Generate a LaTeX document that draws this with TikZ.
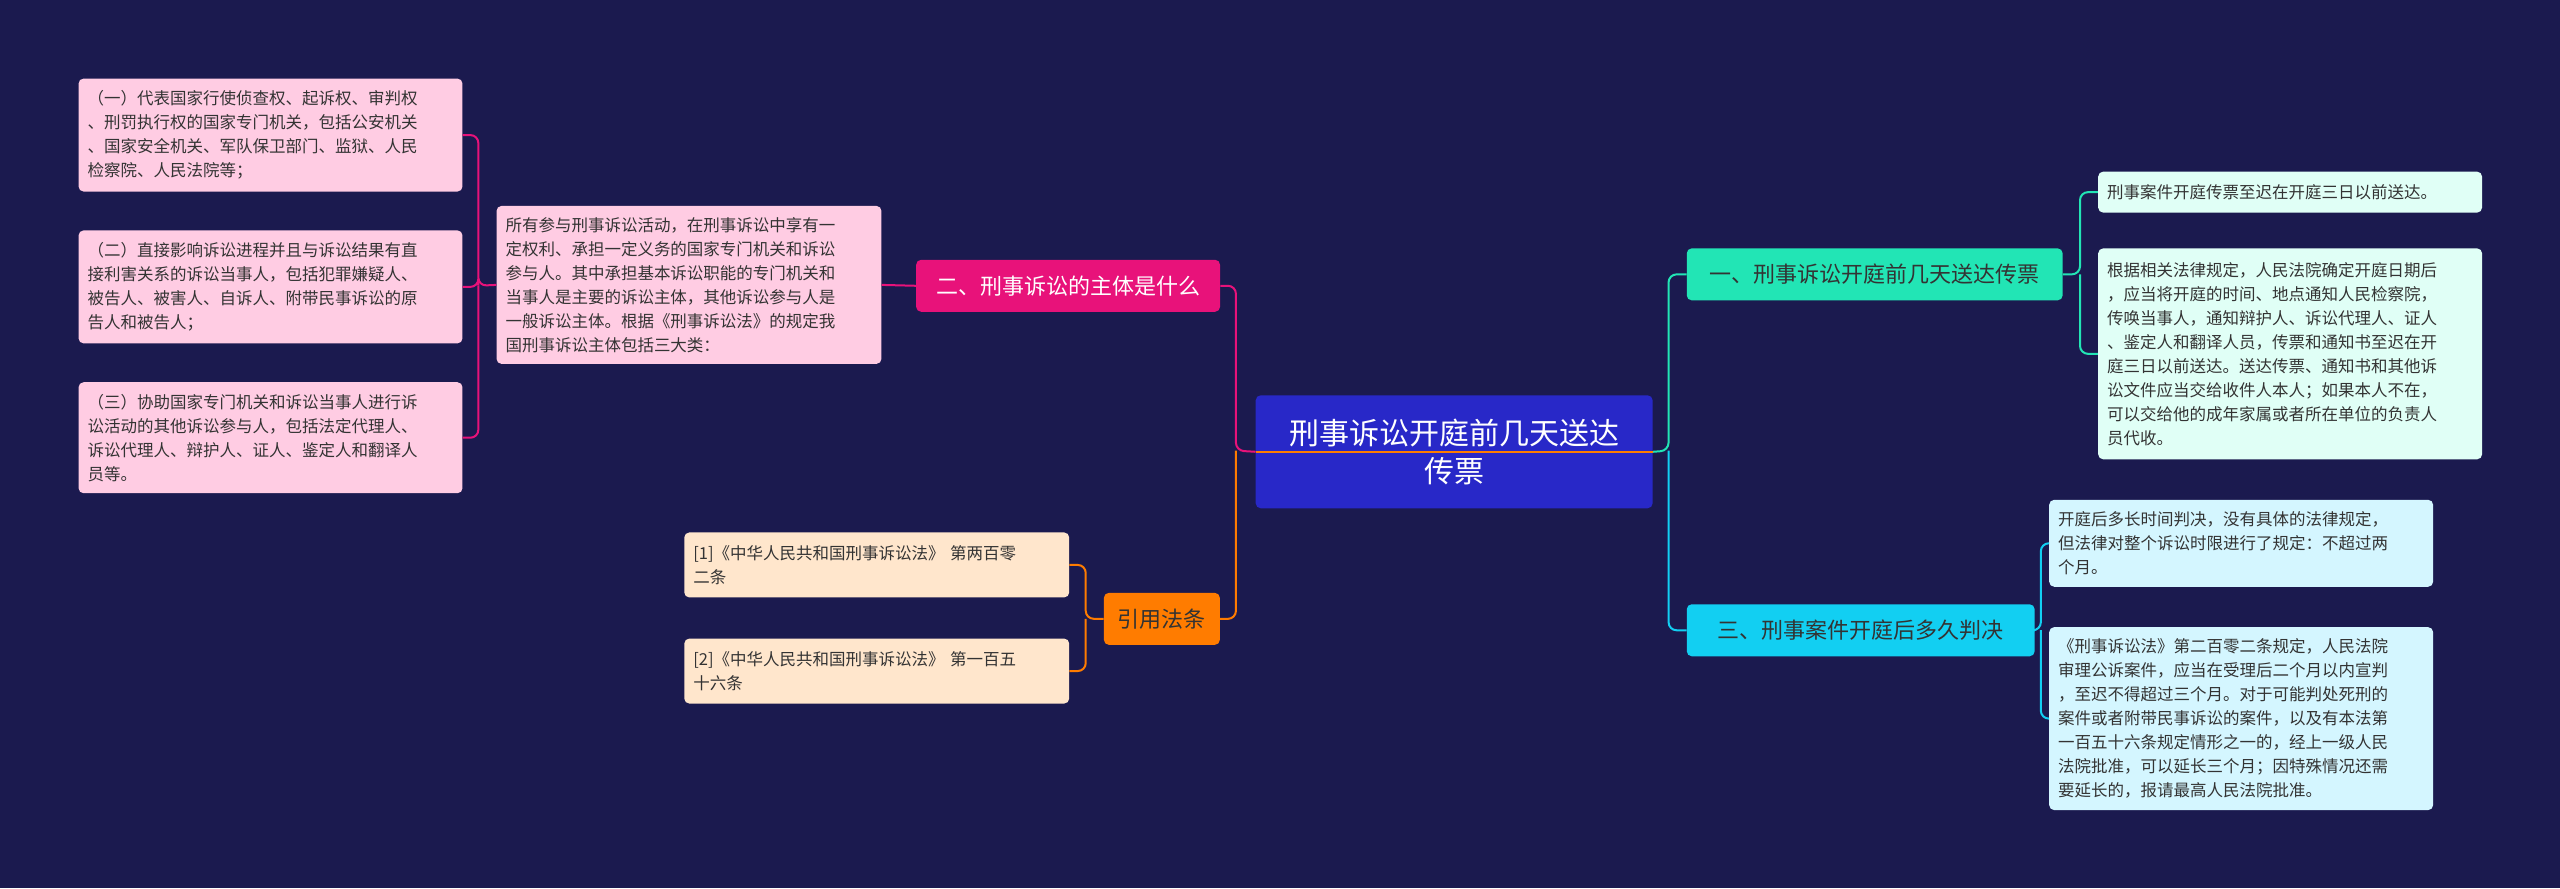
\documentclass[tikz,border=0pt]{standalone}
\usepackage{fontspec}
\setmainfont{Noto Sans CJK SC}
\definecolor{bgcol}{HTML}{1B1A4F}
\definecolor{rootcol}{HTML}{2828C8}
\definecolor{onecol}{HTML}{22E5B5}
\definecolor{onelight}{HTML}{E0FFF6}
\definecolor{threecol}{HTML}{12CFF2}
\definecolor{threelight}{HTML}{D4F6FF}
\definecolor{twocol}{HTML}{E8127A}
\definecolor{twolight}{HTML}{FFCCE3}
\definecolor{citecol}{HTML}{FF7C00}
\definecolor{citelight}{HTML}{FFE6CC}
\definecolor{inkcol}{HTML}{333333}
\begin{document}
\begin{tikzpicture}[x=1.633pt,y=-1.633pt]
\tikzstyle{box}=[anchor=north west, rounded corners=5pt, inner sep=9pt, align=left]
\tikzstyle{leaf}=[box, text=inkcol, font=\fontsize{16.5}{24}\selectfont]
\tikzstyle{topic}=[box, font=\fontsize{22}{28}\selectfont, align=center]
\tikzstyle{link}=[line width=2pt, rounded corners=8pt]
\fill[bgcol] (0,0) rectangle (1568,544);
% root
\draw node[box, fill=rootcol, text=white, align=center, text width=379pt, minimum height=113pt,
  font=\fontsize{30}{38}\selectfont] (root) at (769,242) {刑事诉讼开庭前几天送达\\传票};
% right side
\draw node[topic, fill=onecol, text=inkcol, minimum width=376pt, minimum height=52pt] (one) at (1033,152) {一、刑事诉讼开庭前几天送达传票};
\draw node[leaf, fill=onelight, text width=366pt, minimum height=41pt] (onea) at (1285,105) {刑事案件开庭传票至迟在开庭三日以前送达。};
\draw node[leaf, fill=onelight, text width=366pt, minimum height=211pt] (oneb) at (1285,152)
  {根据相关法律规定，人民法院确定开庭日期后\\，应当将开庭的时间、地点通知人民检察院，\\传唤当事人，通知辩护人、诉讼代理人、证人\\、鉴定人和翻译人员，传票和通知书至迟在开\\庭三日以前送达。送达传票、通知书和其他诉\\讼文件应当交给收件人本人；如果本人不在，\\可以交给他的成年家属或者所在单位的负责人\\员代收。};
\draw node[topic, fill=threecol, text=inkcol, minimum width=348pt, minimum height=52pt] (three) at (1033,370) {三、刑事案件开庭后多久判决};
\draw node[leaf, fill=threelight, text width=366pt, minimum height=87pt] (threea) at (1255,306)
  {开庭后多长时间判决，没有具体的法律规定，\\但法律对整个诉讼时限进行了规定：不超过两\\个月。};
\draw node[leaf, fill=threelight, text width=366pt, minimum height=183pt] (threeb) at (1255,384)
  {《刑事诉讼法》第二百零二条规定，人民法院\\审理公诉案件，应当在受理后二个月以内宣判\\，至迟不得超过三个月。对于可能判处死刑的\\案件或者附带民事诉讼的案件，以及有本法第\\一百五十六条规定情形之一的，经上一级人民\\法院批准，可以延长三个月；因特殊情况还需\\要延长的，报请最高人民法院批准。};
% left side
\draw node[topic, fill=twocol, text=white, minimum width=304pt, minimum height=52pt] (two) at (561,159) {二、刑事诉讼的主体是什么};
\draw node[leaf, fill=twolight, text width=367pt, minimum height=158pt] (twomid) at (304,126)
  {所有参与刑事诉讼活动，在刑事诉讼中享有一\\定权利、承担一定义务的国家专门机关和诉讼\\参与人。其中承担基本诉讼职能的专门机关和\\当事人是主要的诉讼主体，其他诉讼参与人是\\一般诉讼主体。根据《刑事诉讼法》的规定我\\国刑事诉讼主体包括三大类：};
\draw node[leaf, fill=twolight, text width=366pt, minimum height=113pt] (twoa) at (48,48)
  {（一）代表国家行使侦查权、起诉权、审判权\\、刑罚执行权的国家专门机关，包括公安机关\\、国家安全机关、军队保卫部门、监狱、人民\\检察院、人民法院等；};
\draw node[leaf, fill=twolight, text width=366pt, minimum height=113pt] (twob) at (48,141)
  {（二）直接影响诉讼进程并且与诉讼结果有直\\接利害关系的诉讼当事人，包括犯罪嫌疑人、\\被告人、被害人、自诉人、附带民事诉讼的原\\告人和被告人；};
\draw node[leaf, fill=twolight, text width=366pt, minimum height=111pt] (twoc) at (48,234)
  {（三）协助国家专门机关和诉讼当事人进行诉\\讼活动的其他诉讼参与人，包括法定代理人、\\诉讼代理人、辩护人、证人、鉴定人和翻译人\\员等。};
\draw node[topic, fill=citecol, text=inkcol, minimum width=116pt, minimum height=52pt] (cite) at (676,363) {引用法条};
\draw node[leaf, fill=citelight, text width=367pt, minimum height=65pt] (citea) at (419,326)
  {[1]《中华人民共和国刑事诉讼法》 第两百零\\二条};
\draw node[leaf, fill=citelight, text width=367pt, minimum height=65pt] (citeb) at (419,391)
  {[2]《中华人民共和国刑事诉讼法》 第一百五\\十六条};
% connectors
\coordinate (rj) at (1022,276);
\coordinate (lj) at (757,276);
\coordinate (onej) at (1274,168);
\coordinate (threej) at (1250,386);
\coordinate (twoj) at (293,175);
\coordinate (citej) at (665,379);
\draw[link, onecol] (root.east) -- (rj) |- (one.west);
\draw[link, threecol] (rj) |- (three.west);
\draw[link, onecol] (one.east) -- (onej) |- (onea.west);
\draw[link, onecol] (onej) |- (oneb.west);
\draw[link, threecol] (three.east) -- (threej) |- (threea.west);
\draw[link, threecol] (threej) |- (threeb.west);
\draw[link, twocol] (root.west) -- (lj) |- (two.east);
\draw[link, citecol] (lj) |- (cite.east);
\draw[link, twocol] (two.west) -- (twomid.east);
\draw[link, twocol] (twomid.west) -- (twoj) |- (twoa.east);
\draw[link, twocol] (twoj) |- (twob.east);
\draw[link, twocol] (twoj) |- (twoc.east);
\draw[link, citecol] (cite.west) -- (citej) |- (citea.east);
\draw[link, citecol] (citej) |- (citeb.east);
\draw[line width=2pt, citecol] (root.west) -- (root.east);
\end{tikzpicture}
\end{document}
